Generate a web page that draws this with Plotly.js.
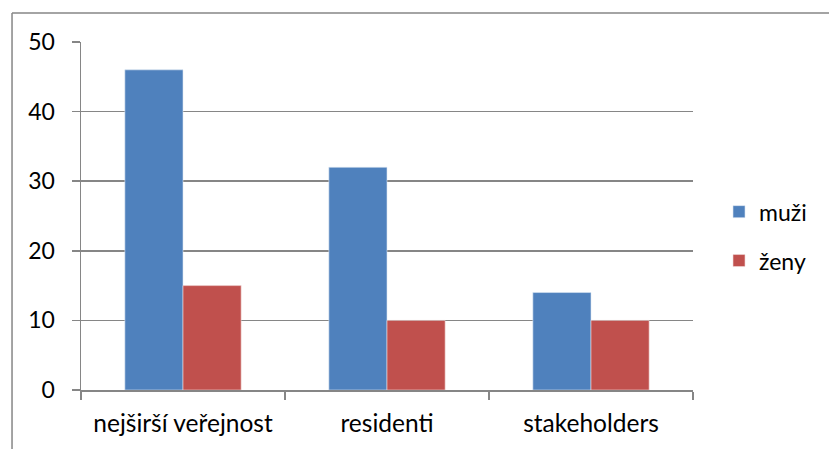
<!DOCTYPE html>
<html>
<head>
<meta charset="utf-8">
<script src="https://cdn.plot.ly/plotly-3.0.1.min.js"></script>
<style>html,body{margin:0;padding:0;background:#fff;}#chart{width:829px;height:449px;}</style>
</head>
<body>
<div id="chart"></div>
<script>
const categories = ["nejširší veřejnost", "residenti", "stakeholders"];
const seriesNames = ["muži", "ženy"];
const muzi = [46, 32, 14];
const zeny = [15, 10, 10];
const yTicks = [0, 10, 20, 30, 40, 50];

const FONT = "Lato, Carlito, 'Open Sans', sans-serif";
const GRID = "#868686";

const traces = [
  {type: "bar", name: seriesNames[0], x: categories, y: muzi, legendgroup: "a",
   marker: {color: "#4F81BD", line: {color: "#DCE6F2", width: 0.6}}},
  {type: "bar", name: seriesNames[1], x: categories, y: zeny, legendgroup: "b",
   marker: {color: "#C0504D", line: {color: "#F2DCDB", width: 0.6}}}
];

const layout = {
  width: 829, height: 449,
  margin: {l: 81, r: 136, t: 42, b: 59, pad: 0},
  paper_bgcolor: "#fff", plot_bgcolor: "#fff",
  font: {family: FONT, size: 23, color: "#000"},
  barmode: "group", bargap: 0.43, bargroupgap: 0,
  showlegend: true,
  legend: {x: 1.0425, y: 0.442, xanchor: "left", yanchor: "middle",
           font: {family: FONT, size: 23, color: "#000"},
           traceorder: "grouped", tracegroupgap: 16, bgcolor: "rgba(0,0,0,0)"},
  xaxis: {type: "category", showgrid: false, showline: true, linecolor: GRID, linewidth: 1.5,
          ticks: "outside", tickson: "boundaries", ticklen: 8, tickcolor: GRID, tickwidth: 1.5,
          tickfont: {family: FONT, size: 24.5}, ticklabelstandoff: 11, fixedrange: true},
  yaxis: {range: [0, 50], tickvals: yTicks, ticktext: yTicks.map(String),
          showgrid: true, gridcolor: GRID, gridwidth: 1.5, zeroline: false,
          showline: true, linecolor: GRID, linewidth: 1.5,
          ticks: "outside", ticklen: 8, tickcolor: GRID, tickwidth: 1.5,
          tickfont: {family: FONT, size: 23}, ticklabelstandoff: 12, fixedrange: true},
  shapes: [
    {type: "line", xref: "paper", yref: "paper", x0: -0.1127, y0: 1.0833, x1: 1.25, y1: 1.0833,
     line: {color: GRID, width: 1.5}},
    {type: "line", xref: "paper", yref: "paper", x0: -0.1127, y0: 1.0833, x1: -0.1127, y1: -0.2,
     line: {color: GRID, width: 1.5}}
  ]
};

Plotly.newPlot("chart", traces, layout, {staticPlot: true, displayModeBar: false});
</script>
</body>
</html>
